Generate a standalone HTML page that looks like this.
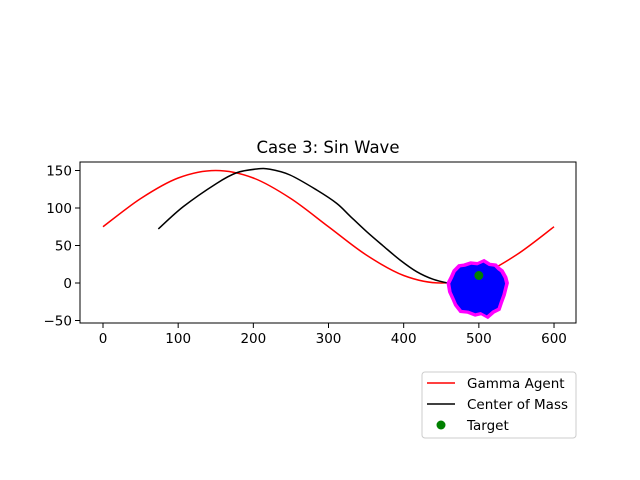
<!DOCTYPE html>
<html><head><meta charset="utf-8"><style>
body{margin:0;background:#fff;}
svg{display:block;font-family:"DejaVu Sans","Liberation Sans",sans-serif;}
</style></head><body>
<svg id="chart" width="640" height="480" viewBox="0 0 640 480">
<rect width="640" height="480" fill="#fff"/>
<text x="328" y="153" text-anchor="middle" font-size="16.5">Case 3: Sin Wave</text>
<g id="plot"></g>
<rect x="80" y="162" width="496" height="161" fill="none" stroke="#000" stroke-width="1"/>
<g>
<rect x="422" y="372" width="154" height="66" rx="3" fill="#fff" stroke="#ccc"/>
<line x1="427" y1="383" x2="455" y2="383" stroke="red" stroke-width="1.5"/>
<text x="467" y="388" font-size="13.5">Gamma Agent</text>
<line x1="427" y1="404" x2="455" y2="404" stroke="#000" stroke-width="1.5"/>
<text x="467" y="409" font-size="13.5">Center of Mass</text>
<circle cx="441" cy="425" r="4.5" fill="green"/>
<text x="467" y="430" font-size="13.5">Target</text>
</g>
</svg>
<script>
const gammaX=[0,50,100,150,200,250,300,350,400,450,500,550,600];
const gammaY=[75,112.5,140,150,140,112.5,75,37.5,10,0,10,37.5,75];
const comX=[73.6,106.8,151.3,177.8,204.5,222.2,248.8,284.3,310.9,328.6,350.8,372.9,395.1,417.3,439.4,463.9];
const comY=[72,101.8,132.9,147,152,151.6,144,124,106.2,89.3,68.4,49.3,30.7,15.1,4.9,-1.3];
const swarmX=[458,462,466,473,480,489,498,507,515,523,528,532,537,539,537,535,531,528,520,512,503,495,485,475,468,465,460];
const swarmY=[0,8,17,24,25,28,27,31,26,25,20,17,8,0,-8,-16,-27,-36,-40,-47,-42,-44,-40,-39,-30,-23,-12];
const targetX=[500];
const targetY=[10];
const xTicks=[0,100,200,300,400,500,600];
const yTicks=[-50,0,50,100,150];

const NS="http://www.w3.org/2000/svg";
function sx(v){return 103+v*0.7517;}
function sy(v){return 283-v*0.75;}
const plot=document.getElementById('plot');
function mk(t,a){const e=document.createElementNS(NS,t);for(const k in a)e.setAttribute(k,a[k]);plot.appendChild(e);return e;}
function smooth(xs,ys){
  const p=xs.map((x,i)=>[sx(x),sy(ys[i])]);
  let d="M"+p[0][0]+","+p[0][1];
  for(let i=0;i<p.length-1;i++){
    const p0=p[Math.max(i-1,0)],p1=p[i],p2=p[i+1],p3=p[Math.min(i+2,p.length-1)];
    d+=" C"+(p1[0]+(p2[0]-p0[0])/6)+","+(p1[1]+(p2[1]-p0[1])/6)+" "+(p2[0]-(p3[0]-p1[0])/6)+","+(p2[1]-(p3[1]-p1[1])/6)+" "+p2[0]+","+p2[1];
  }
  return d;
}
xTicks.forEach(v=>{
  const l=mk('line',{x1:sx(v),x2:sx(v),y1:323,y2:328,stroke:'#000'});
  
  
  const t=mk('text',{x:sx(v),y:343,'text-anchor':'middle','font-size':'13.5'});
  t.textContent=v;
  
  
});
yTicks.forEach(v=>{
  const l=mk('line',{x1:75,x2:80,y1:sy(v),y2:sy(v),stroke:'#000'});
  
  
  const t=mk('text',{x:72,y:sy(v)+5,'text-anchor':'end','font-size':'13.5'});
  t.textContent=v<0?'\u2212'+(-v):v;
  
  
});
const g=mk('path',{d:smooth(gammaX,gammaY),fill:'none',stroke:'red','stroke-width':1.5});


const c=mk('path',{d:smooth(comX,comY),fill:'none',stroke:'#000','stroke-width':1.5});


const pts=swarmX.map((x,i)=>sx(x)+","+sy(swarmY[i])).join(" ");
const m=mk('polygon',{points:pts,fill:'magenta',stroke:'magenta','stroke-width':1.5,'stroke-linejoin':'miter'});


const b=mk('polygon',{points:pts,fill:'blue',transform:'translate('+sx(498)+','+sy(-8)+') scale(0.9) translate('+(-sx(498))+','+(-sy(-8))+')'});


targetX.forEach((x,i)=>{
  const t=mk('circle',{cx:sx(x),cy:sy(targetY[i]),r:4.5,fill:'green'});
  
  
});
</script>
</body></html>
